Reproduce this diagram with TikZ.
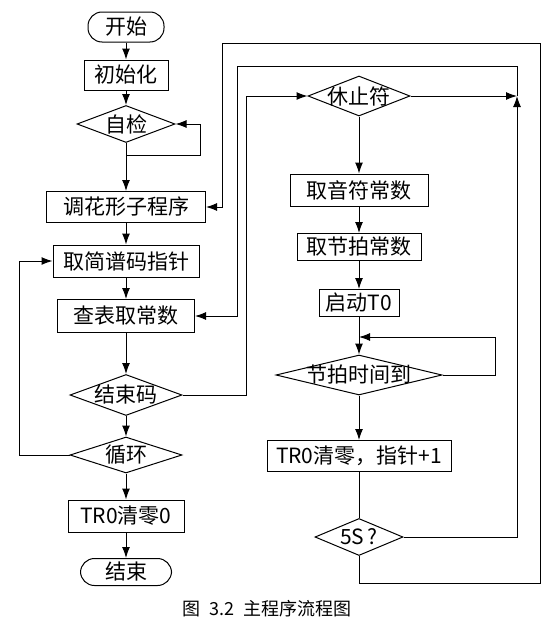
\documentclass[tikz,border=0pt]{standalone}
\usepackage{fontspec}
\setmainfont{Noto Sans CJK SC}
\usetikzlibrary{arrows.meta,shapes.geometric,positioning}

\begin{document}
\begin{tikzpicture}[x=1pt,y=-1pt,line width=1pt,
  >={Latex[length=11pt,width=8pt]},
  every node/.style={font=\fontsize{21}{24}\selectfont},
  box/.style={draw,rectangle,inner sep=0pt,minimum height=31pt},
  term/.style={draw,rectangle,rounded corners=14pt,inner sep=0pt,minimum height=30pt},
  dia/.style={draw,diamond,inner sep=0pt}]
\useasboundingbox (0,0) rectangle (550,629);
%
% left column
\node[term,minimum width=76] (ks) at (126,27) {开始};
\node[box,minimum width=84,minimum height=30] (csh) at (126,75) {初始化};
\node[dia,minimum width=98,minimum height=37,label=center:自检] (zj) at (126,124) {};
\node[box,minimum width=159] (htx) at (126,207) {调花形子程序};
\node[box,minimum width=146,minimum height=32] (qjp) at (126,261) {取简谱码指针};
\node[box,minimum width=137,minimum height=33] (cb) at (126,316) {查表取常数};
\node[dia,minimum width=112,minimum height=41,label=center:结束码] (jsm) at (126,395) {};
\node[dia,minimum width=112,minimum height=36,label=center:循环] (xh) at (126,455) {};
\node[box,minimum width=116,minimum height=32] (tr0) at (126,516) {TR0清零0};
\node[term,minimum width=91,minimum height=27] (js) at (126,572) {结束};
%
% right column
\node[dia,minimum width=102,minimum height=40,label=center:休止符] (xzf) at (359,96) {};
\node[box,minimum width=138,minimum height=32] (yf) at (359,190) {取音符常数};
\node[box,minimum width=124,minimum height=27] (jp) at (359,247) {取节拍常数};
\node[box,minimum width=80,minimum height=27] (qd) at (359,303) {启动T0};
\node[dia,minimum width=166,minimum height=40,label=center:节拍时间到] (jpd) at (359,375) {};
\node[box,minimum width=184,minimum height=31] (trz) at (359,456) {TR0清零，指针+1};
\node[dia,minimum width=88,minimum height=37,label=center:5S\,?] (s5) at (359,537) {};
%
\coordinate (hub) at (517,96);
\coordinate (t2) at (237,66);
\coordinate (o1) at (540,583);
\coordinate (o2) at (222,43);
\coordinate (m1) at (359,337);
%
% straight arrows
\foreach \a/\b in {ks/csh,csh/zj,zj/htx,htx/qjp,qjp/cb,cb/jsm,jsm/xh,xh/tr0,tr0/js,
  xzf/yf,yf/jp,jp/qd,qd/jpd,jpd/trz}
\draw[->] (\a) -- (\b);
\draw (trz) -- (s5);
%
% loops
\draw[->] (zj.south) -- ++(0,12) -| ([xshift=25]zj.east) -- (zj.east);
\draw[->] (xh.west) -- ++(-50,0) |- (qjp.west);
\draw[->] (jsm.east) -| ([xshift=-61]xzf.west) -- (xzf.west);
\draw[->] (xzf.east) -- (hub);
\draw[->] (hub) |- (t2) |- (cb.east);
\draw[->] (s5.east) -| (hub);
\draw[->] (s5.south) |- (o1) |- (o2) |- (htx.east);
\draw[->] (jpd.east) -- ++(53,0) |- (m1);
%
\node[font=\fontsize{18}{21}\selectfont] (cap) at (267,609) {图\hspace{0.5em}3.2\hspace{0.5em}主程序流程图};
\end{tikzpicture}
\end{document}
